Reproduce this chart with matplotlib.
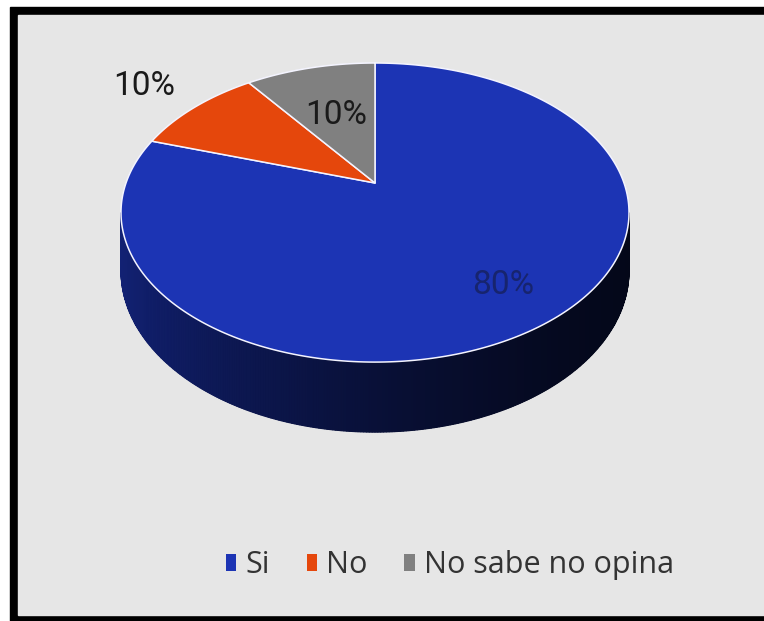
import numpy as np
import matplotlib.pyplot as plt
from matplotlib.patches import Polygon, Rectangle, Patch
from matplotlib.colors import to_rgb

categorias = ["Si", "No", "No sabe no opina"]
porcentajes = [80, 10, 10]
colores = ["#1C34B4", "#E5470C", "#808080"]

# geometria del pastel 3D, en pixeles de la figura
cx, cy = 375, 183        # vertice comun de las porciones
rx, ry = 249, 143.7
persp = 0.1976           # deformacion por perspectiva
grosor = 56.2


def proyectar(ang, r=1.0):
    u = r * np.cos(ang)
    v = r * np.sin(ang)
    w = 1 + persp * v
    return cx + rx * u / w, cy - ry * v / w, w


fig = plt.figure(figsize=(7.64, 6.21), dpi=100)
ax = fig.add_axes([0, 0, 1, 1])
ax.set_xlim(0, 764)
ax.set_ylim(621, 0)
ax.axis("off")

# marco negro y fondo gris
ax.add_patch(Rectangle((10, 7), 800, 630, color="black", zorder=0))
ax.add_patch(Rectangle((18, 15), 800, 600, color="#E6E6E6", zorder=0))

fracs = np.array(porcentajes) / sum(porcentajes)
acum = np.concatenate([[0], np.cumsum(fracs)])
# empieza a las 12 y gira en sentido horario
inicios = np.pi / 2 - 2 * np.pi * acum[:-1]
finales = np.pi / 2 - 2 * np.pi * acum[1:]


def porcion_de(t):
    f = ((np.pi / 2 - t) / (2 * np.pi)) % 1
    return min(np.searchsorted(acum, f, side="right") - 1, len(fracs) - 1)


# costado visible del cilindro
t1 = -np.pi + np.arcsin(persp)
t2 = -np.arcsin(persp)
ts = np.linspace(t1, t2, 301)
xs, ys, ws = proyectar(ts)
# fondo oscuro continuo para tapar las juntas entre franjas
contorno = list(zip(xs, ys)) + list(zip(xs[::-1], (ys + grosor / ws)[::-1]))
ax.add_patch(Polygon(contorno, closed=True, facecolor="#0B1238",
                     edgecolor="none", zorder=1))
for a, b in zip(ts[:-1], ts[1:]):
    xa, ya, wa = proyectar(a)
    xb, yb, wb = proyectar(b)
    i = porcion_de((a + b) / 2)
    luz = (1 - np.cos((a + b) / 2)) / 2
    tono = 0.14 + 0.52 * luz ** 1.6
    c = np.array(to_rgb(colores[i])) * tono
    quad = [(xa, ya), (xb, yb), (xb, yb + grosor / wb), (xa, ya + grosor / wa)]
    ax.add_patch(Polygon(quad, closed=True, facecolor=c, edgecolor=c,
                         lw=0.8, zorder=2))

# cara superior
for i in range(len(fracs)):
    angs = np.linspace(inicios[i], finales[i], 300)
    px, py, _ = proyectar(angs)
    pts = [(cx, cy)] + list(zip(px, py))
    ax.add_patch(Polygon(pts, closed=True, facecolor=colores[i],
                         edgecolor="#F4F4FF", lw=1.1, joinstyle="round",
                         zorder=3))

# etiquetas de porcentaje
radios = [0.77, 1.32, 0.55]
colores_txt = ["#17246E", "#1A1A1A", "#1A1A1A"]
for i, p in enumerate(porcentajes):
    medio = (inicios[i] + finales[i]) / 2
    x, y, _ = proyectar(medio, radios[i])
    ax.text(x, y, f"{p}%", ha="center", va="center", fontsize=24,
            family=["Roboto", "DejaVu Sans"], color=colores_txt[i], zorder=5)

handles = [Patch(facecolor=c, edgecolor="none") for c in colores]
fig.legend(handles, categorias, ncol=3, loc="center",
           bbox_to_anchor=(0.589, 0.09), frameon=False,
           prop={"family": ["Open Sans", "DejaVu Sans"], "size": 22},
           labelcolor="#333333", handlelength=0.35, handleheight=0.5,
           handletextpad=0.3, columnspacing=1.2)

fig.savefig("out.png", dpi=100)
